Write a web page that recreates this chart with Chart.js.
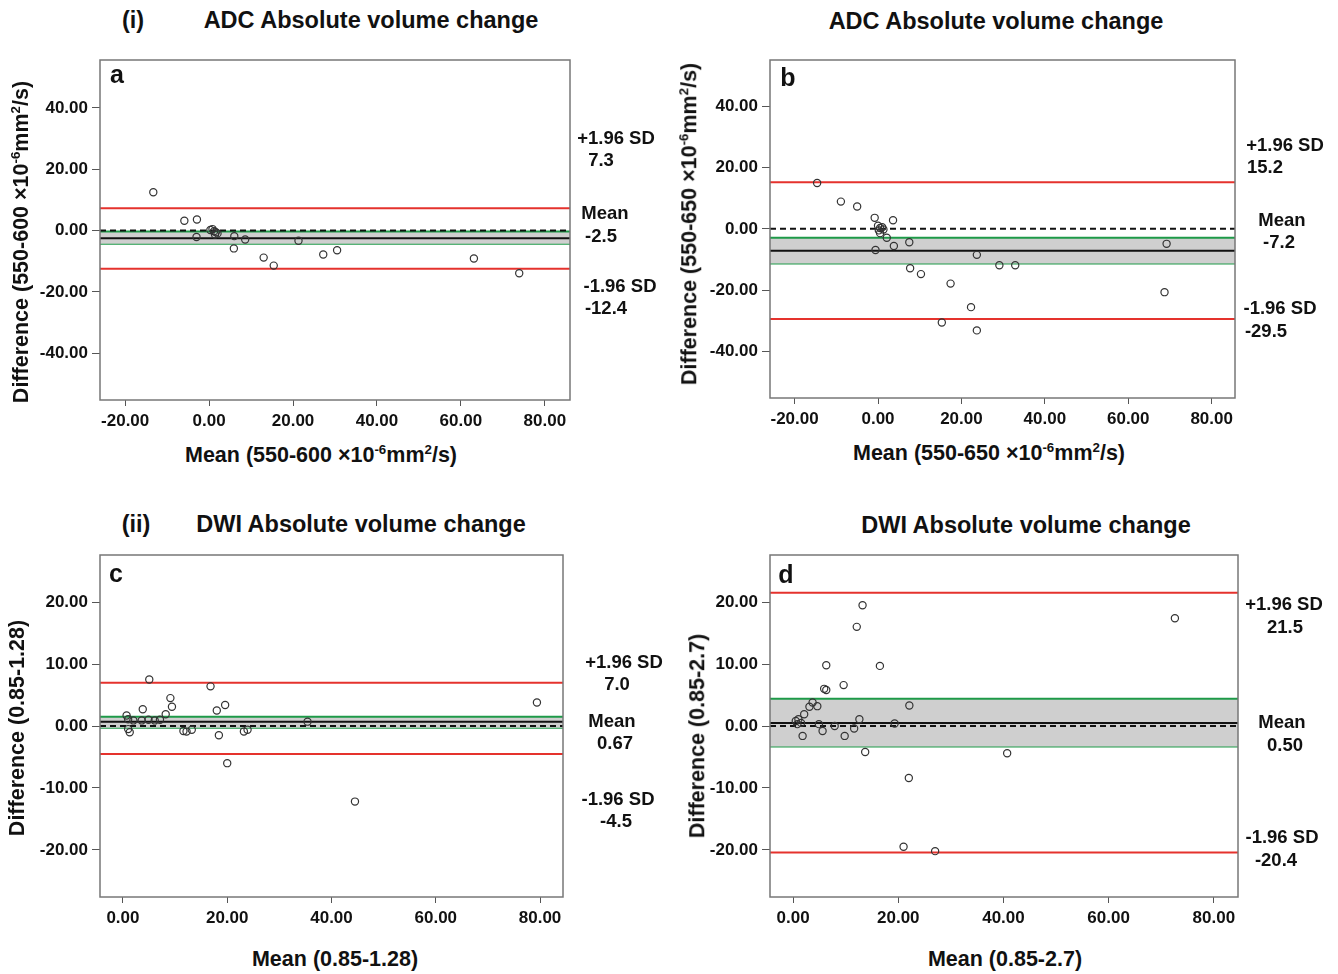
<!DOCTYPE html>
<html>
<head>
<meta charset="utf-8">
<script src="https://cdn.jsdelivr.net/npm/chart.js@4.4.1/dist/chart.umd.min.js"></script>
<style>
  body { margin: 0; background: #fff; width: 1338px; height: 974px; position: relative; overflow: hidden;
         font-family: "Liberation Sans", Arial, sans-serif; font-weight: bold; color: #111; }
  canvas { position: absolute; }
  .t { position: absolute; white-space: nowrap; transform: translate(-50%, -50%); line-height: 1; }
  .rot { transform: translate(-50%, -50%) rotate(-90deg); }
  sup { font-size: 62%; position: relative; top: -0.15em; vertical-align: top; }
</style>
</head>
<body>
<script>
// tick labels
const xTicksAB = [-20, 0, 20, 40, 60, 80];
const yTicksAB = [-40, -20, 0, 20, 40];
const xTicksCD = [0, 20, 40, 60, 80];
const yTicksCD = [-20, -10, 0, 10, 20];

// (a) ADC 550-600
const meanA = [-13.3, -5.9, -2.9, -3.0, 0.3, 0.8, 1.2, 1.6, 2.0, 1.4, 6.0, 8.6, 5.9, 13.0, 15.4, 21.3, 27.2, 30.5, 63.1, 73.9];
const diffA = [12.5, 3.2, 3.6, -2.1, 0.2, 0.5, -0.2, -0.5, -0.9, -1.3, -1.8, -2.9, -5.8, -8.8, -11.4, -3.3, -7.8, -6.4, -9.1, -13.9];
const limitsA = [7.3, -2.5, -12.4];      // +1.96 SD, mean, -1.96 SD
const ciA = [-0.3, -4.3];                // 95% CI of mean
const limitTextA = ['7.3', '-2.5', '-12.4'];

// (b) ADC 550-650
const meanB = [-14.6, -8.9, -5.0, -0.8, 3.6, 0.0, 0.5, 1.0, 1.3, 0.2, 0.5, 2.1, 3.8, -0.6, 7.5, 7.7, 10.3, 17.4, 22.3, 15.3, 23.7, 23.7, 29.1, 32.9, 69.2, 68.7];
const diffB = [15.0, 8.9, 7.3, 3.6, 2.8, 1.0, 0.3, 0.5, -0.2, -0.5, -1.4, -2.9, -5.6, -6.9, -4.4, -12.9, -14.8, -17.9, -25.6, -30.6, -33.2, -8.5, -11.9, -11.9, -4.9, -20.7];
const limitsB = [15.2, -7.2, -29.5];
const ciB = [-2.9, -11.3];
const limitTextB = ['15.2', '-7.2', '-29.5'];

// (c) DWI 0.85-1.28
const meanC = [5.05, 16.8, 9.1, 9.4, 3.8, 19.6, 18.0, 8.2, 1.0, 2.0, 3.6, 4.9, 6.1, 7.1, 0.7, 1.3, 1.0, 11.6, 12.2, 13.2, 18.4, 23.2, 23.9, 20.0, 35.4, 44.5, 79.4];
const diffC = [7.5, 6.4, 4.5, 3.1, 2.7, 3.4, 2.5, 1.9, 1.1, 0.9, 0.9, 1.0, 0.9, 1.0, 1.7, -1.0, -0.5, -0.8, -0.9, -0.6, -1.5, -0.9, -0.6, -6.0, 0.7, -12.2, 3.8];
const limitsC = [7.0, 0.67, -4.5];
const ciC = [1.5, -0.27];
const limitTextC = ['7.0', '0.67', '-4.5'];

// (d) DWI 0.85-2.7
const meanD = [13.2, 12.1, 6.3, 16.5, 9.6, 5.9, 6.3, 3.7, 3.1, 4.6, 22.1, 2.1, 0.5, 1.0, 1.5, 0.8, 12.6, 4.9, 7.9, 19.3, 11.6, 5.6, 1.8, 9.8, 13.7, 40.7, 22.0, 21.0, 27.0, 72.6];
const diffD = [19.5, 16.0, 9.8, 9.7, 6.6, 6.0, 5.8, 3.8, 3.1, 3.2, 3.3, 1.9, 0.8, 1.1, 0.5, 0.3, 1.1, 0.3, 0.0, 0.4, -0.4, -0.8, -1.6, -1.6, -4.2, -4.4, -8.4, -19.5, -20.2, 17.4];
const limitsD = [21.5, 0.50, -20.4];
const ciD = [4.4, -3.3];
const limitTextD = ['21.5', '0.50', '-20.4'];

const RED = '#e5322d', GREEN = '#1e9a48', BAND = '#cfcfcf', INK = '#111';
const tickFont = { family: '"Liberation Sans", Arial, sans-serif', size: 17, weight: 'bold' };

function text(html, x, y, size, rotate) {
  const d = document.createElement('div');
  d.className = 't' + (rotate ? ' rot' : '');
  d.style.left = x + 'px';
  d.style.top = y + 'px';
  d.style.fontSize = size + 'px';
  d.innerHTML = html;
  document.body.appendChild(d);
}

const boxPlugin = {
  id: 'box',
  afterDraw(chart) {
    const { ctx, chartArea: a } = chart;
    ctx.save();
    ctx.strokeStyle = '#777';
    ctx.lineWidth = 1.5;
    ctx.strokeRect(a.left, a.top, a.right - a.left, a.bottom - a.top);
    ctx.restore();
  }
};

function hline(v, xr, color, extra) {
  return Object.assign({
    type: 'line',
    data: [{ x: xr[0], y: v }, { x: xr[1], y: v }],
    borderColor: color, borderWidth: 2, pointRadius: 0, fill: false
  }, extra || {});
}

// canvas = plot box + room for y labels (80 left), x labels (35 below), padding top/right
const PAD_TOP = 16, PAD_RIGHT = 26;

function panel(p) {
  const cv = document.createElement('canvas');
  const w = (p.area[2] - p.area[0]) + 80 + PAD_RIGHT;
  const h = (p.area[3] - p.area[1]) + 35 + PAD_TOP;
  cv.width = w; cv.height = h;
  cv.style.left = (p.area[0] - 80) + 'px';
  cv.style.top = (p.area[1] - PAD_TOP) + 'px';
  cv.style.width = w + 'px'; cv.style.height = h + 'px';
  document.body.appendChild(cv);

  const pts = p.xs.map((x, i) => ({ x: x, y: p.ys[i] }));
  new Chart(cv, {
    type: 'scatter',
    data: {
      datasets: [
        { data: pts, pointRadius: 3.6, pointBorderWidth: 1.2, borderColor: '#333', backgroundColor: 'rgba(0,0,0,0)' },
        hline(0, p.xr, INK, { borderDash: [6, 4] }),
        hline(p.limits[1], p.xr, INK),
        hline(p.limits[0], p.xr, RED),
        hline(p.limits[2], p.xr, RED),
        hline(p.ci[0], p.xr, GREEN, { fill: '+1', backgroundColor: BAND }),
        hline(p.ci[1], p.xr, GREEN)
      ]
    },
    options: {
      responsive: false,
      animation: false,
      layout: { padding: { top: PAD_TOP, right: PAD_RIGHT, left: 0, bottom: 0 } },
      plugins: { legend: { display: false }, tooltip: { enabled: false } },
      scales: {
        x: {
          type: 'linear', min: p.xr[0], max: p.xr[1],
          afterBuildTicks: s => { s.ticks = p.xt.map(v => ({ value: v })); },
          afterFit: s => { s.height = 35; },
          ticks: { callback: v => v.toFixed(2), font: tickFont, color: INK, padding: 5, autoSkip: false, maxRotation: 0 },
          grid: { drawOnChartArea: false, drawTicks: true, tickLength: 6, tickColor: '#555' },
          border: { display: false }
        },
        y: {
          type: 'linear', min: p.yr[0], max: p.yr[1],
          afterBuildTicks: s => { s.ticks = p.yt.map(v => ({ value: v })); },
          afterFit: s => { s.width = 80; },
          ticks: { callback: v => v.toFixed(2), font: tickFont, color: INK, padding: 4, autoSkip: false },
          grid: { drawOnChartArea: false, drawTicks: true, tickLength: 8, tickColor: '#555' },
          border: { display: false }
        }
      }
    },
    plugins: [boxPlugin]
  });
}

panel({ area: [100, 60, 570, 400], xr: [-26, 86], yr: [-55.2, 55.6], xt: xTicksAB, yt: yTicksAB, xs: meanA, ys: diffA, limits: limitsA, ci: ciA });
panel({ area: [770, 60, 1235, 398], xr: [-25.9, 85.6], yr: [-55.3, 55.2], xt: xTicksAB, yt: yTicksAB, xs: meanB, ys: diffB, limits: limitsB, ci: ciB });
panel({ area: [100, 555, 563, 897], xr: [-4.4, 84.4], yr: [-27.6, 27.6], xt: xTicksCD, yt: yTicksCD, xs: meanC, ys: diffC, limits: limitsC, ci: ciC });
panel({ area: [770, 555, 1238, 897], xr: [-4.4, 84.6], yr: [-27.6, 27.6], xt: xTicksCD, yt: yTicksCD, xs: meanD, ys: diffD, limits: limitsD, ci: ciD });

// titles
text('(i)', 133, 21, 23.5);
text('ADC Absolute volume change', 371, 21, 23.5);
text('ADC Absolute volume change', 996, 22, 23.5);
text('(ii)', 136, 525, 23.5);
text('DWI Absolute volume change', 361, 525, 23.5);
text('DWI Absolute volume change', 1026, 526, 23.5);

// panel letters
text('a', 117, 74, 25);
text('b', 788, 77, 25);
text('c', 116, 573, 25);
text('d', 786, 574, 25);

// axis titles
const unitA = '550-600 &times;10<sup>-6</sup>mm<sup>2</sup>/s';
const unitB = '550-650 &times;10<sup>-6</sup>mm<sup>2</sup>/s';
text('Difference (' + unitA + ')', 22, 242, 21.5, true);
text('Difference (' + unitB + ')', 690, 224, 21.5, true);
text('Difference (0.85-1.28)', 18, 728, 21.5, true);
text('Difference (0.85-2.7)', 698, 736, 21.5, true);
text('Mean (' + unitA + ')', 321, 456, 21.5);
text('Mean (' + unitB + ')', 989, 454, 21.5);
text('Mean (0.85-1.28)', 335, 960, 21.5);
text('Mean (0.85-2.7)', 1005, 960, 21.5);

// limit labels
function limitLabels(tx, pos) {
  text('+1.96 SD', pos[0][0], pos[0][1], 18.5);
  text(tx[0], pos[1][0], pos[1][1], 18.5);
  text('Mean', pos[2][0], pos[2][1], 18.5);
  text(tx[1], pos[3][0], pos[3][1], 18.5);
  text('-1.96 SD', pos[4][0], pos[4][1], 18.5);
  text(tx[2], pos[5][0], pos[5][1], 18.5);
}
limitLabels(limitTextA, [[616, 138], [601, 160], [605, 213], [601, 236], [620, 286], [606, 308]]);
limitLabels(limitTextB, [[1285, 145], [1265, 167], [1282, 220], [1279, 242], [1280, 308], [1266, 331]]);
limitLabels(limitTextC, [[624, 662], [617, 684], [612, 721], [615, 743], [618, 799], [616, 821]]);
limitLabels(limitTextD, [[1284, 604], [1285, 627], [1282, 722], [1285, 745], [1282, 837], [1276, 860]]);
</script>
</body>
</html>
